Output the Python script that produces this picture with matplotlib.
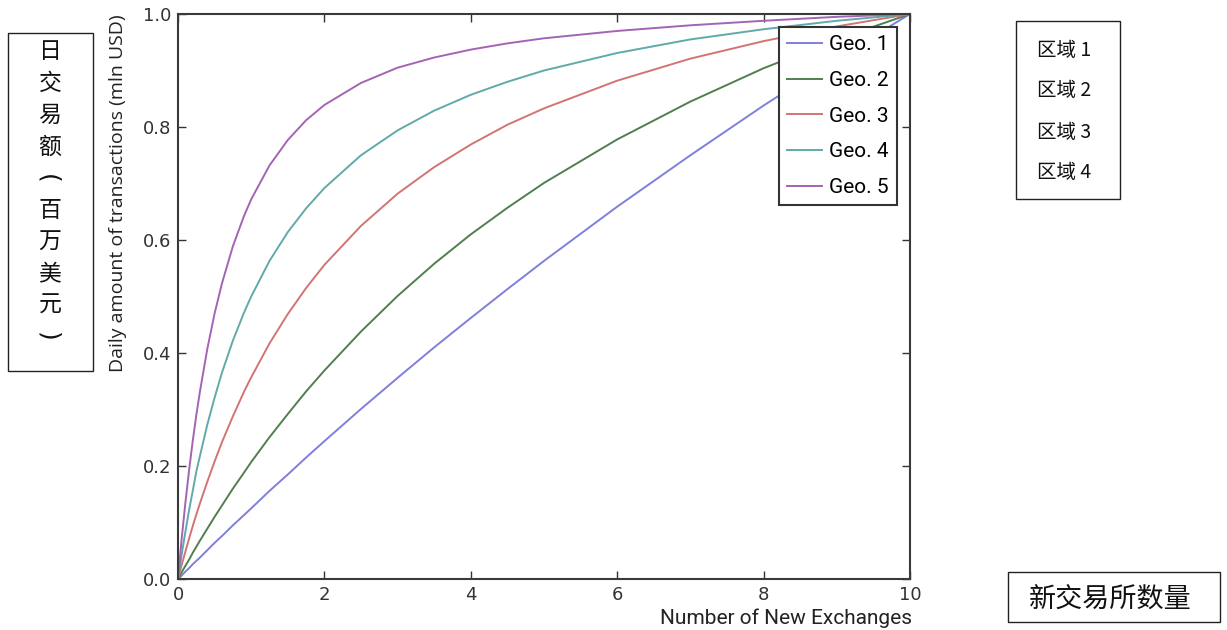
import matplotlib
matplotlib.use("Agg")
import matplotlib.pyplot as plt
from matplotlib.patches import Rectangle

# values
x_vals = [0, 0.05, 0.1, 0.15, 0.2, 0.25, 0.3, 0.4, 0.5, 0.6, 0.75, 0.9, 1, 1.25, 1.5,
          1.75, 2, 2.5, 3, 3.5, 4, 4.5, 5, 6, 7, 8, 9, 10]
geo1 = [0, .006, .013, .019, .026, .032, .038, .051, .064, .076, .095, .113, .125, .156,
        .185, .215, .244, .301, .356, .410, .462, .513, .563, .659, .750, .838, .921, 1.0]
geo2 = [0, .012, .023, .034, .046, .057, .068, .089, .110, .130, .160, .188, .207, .251,
        .292, .332, .369, .438, .501, .558, .610, .657, .701, .778, .845, .904, .955, 1.0]
geo3 = [0, .025, .048, .071, .093, .114, .134, .172, .208, .242, .288, .331, .357, .417,
        .469, .515, .556, .625, .682, .729, .769, .804, .833, .882, .921, .952, .978, 1.0]
geo4 = [0, .043, .083, .121, .155, .190, .218, .273, .321, .365, .422, .471, .500, .563,
        .614, .656, .692, .750, .794, .829, .857, .880, .900, .931, .955, .973, .988, 1.0]
geo5 = [0, .071, .134, .191, .243, .290, .332, .407, .470, .523, .589, .642, .672, .732,
        .777, .812, .839, .878, .905, .923, .937, .948, .957, .970, .980, .988, .995, 1.0]

series_labels = ["Geo. 1", "Geo. 2", "Geo. 3", "Geo. 4", "Geo. 5"]
colors = ["#7f7fdc", "#4f7f4f", "#d27474", "#62a9a9", "#a464b4"]

region_labels = ["区域 1", "区域 2", "区域 3", "区域 4"]
y_label_cn = "日交易额(百万美元)"
x_label_cn = "新交易所数量"

W, H = 1227, 630
fig = plt.figure(figsize=(W / 100, H / 100), dpi=100)

# axes box in pixels: left 178, right 910, top 14, bottom 579
ax = fig.add_axes([178 / W, 1 - 579 / H, (910 - 178) / W, (579 - 14) / H])

for ys, lab, col in zip([geo1, geo2, geo3, geo4, geo5], series_labels, colors):
    ax.plot(x_vals, ys, color=col, lw=1.4, label=lab)

ax.set_xlim(0, 10)
ax.set_ylim(0, 1.0)
ax.set_xticks([0, 2, 4, 6, 8, 10])
ax.set_yticks([0.0, 0.2, 0.4, 0.6, 0.8, 1.0])
ax.set_yticklabels(["0.0", "0.2", "0.4", "0.6", "0.8", "1.0"])
ax.tick_params(direction="in", length=6, width=1, top=True, right=True,
               labelsize=13, colors="#333333", pad=5)
for sp in ax.spines.values():
    sp.set_linewidth(1.5)
    sp.set_color("#3a3a3a")

ax.set_xlabel("Number of New Exchanges", fontsize=15, family="Roboto",
              color="#222222", loc="right")
ax.xaxis.set_label_coords(1.003, -0.053)
ax.set_ylabel("Daily amount of transactions (mln USD)", fontsize=14,
              family="Open Sans", color="#222222", loc="top")
ax.yaxis.set_label_coords(-0.07, 1.0)

leg = ax.legend(loc="upper right", bbox_to_anchor=(0.982, 0.977), borderaxespad=0,
                fancybox=False, framealpha=1, edgecolor="#333333",
                prop={"family": "Roboto", "size": 15}, handlelength=1.65,
                handletextpad=0.35, labelspacing=0.8, borderpad=0.4)
leg.get_frame().set_linewidth(1.5)

# boxes with Chinese annotations
cjk = ["Noto Sans CJK SC", "DejaVu Sans"]

def px_box(x0, y0, x1, y1):
    fig.patches.append(Rectangle((x0 / W, 1 - y1 / H), (x1 - x0) / W, (y1 - y0) / H,
                                 transform=fig.transFigure, fill=False,
                                 edgecolor="#222222", lw=1.0))

px_box(8, 33, 93, 371)
for i, ch in enumerate(y_label_cn):
    yc = 1 - (52 + i * 31.7) / H
    if ch in "()":
        # vertical-style brackets: ordinary parens turned a quarter clockwise
        fig.text(47 / W, yc, ch, family="DejaVu Sans", fontsize=18, ha="center",
                 va="center", color="#111111", rotation=-90, rotation_mode="anchor")
    else:
        fig.text(50 / W, yc, ch, family=cjk, fontsize=16.5,
                 ha="center", va="center", color="#111111")

px_box(1016, 21, 1120, 199)
for i, lab in enumerate(region_labels):
    fig.text(1037 / W, 1 - (50 + i * 41) / H, lab, family=cjk, fontsize=14,
             ha="left", va="center", color="#111111")

px_box(1008, 572, 1220, 622)
fig.text(1110 / W, 1 - 600 / H, x_label_cn, family=cjk, fontsize=19.5,
         ha="center", va="center", color="#111111")

fig.savefig("out.png", dpi=100)
